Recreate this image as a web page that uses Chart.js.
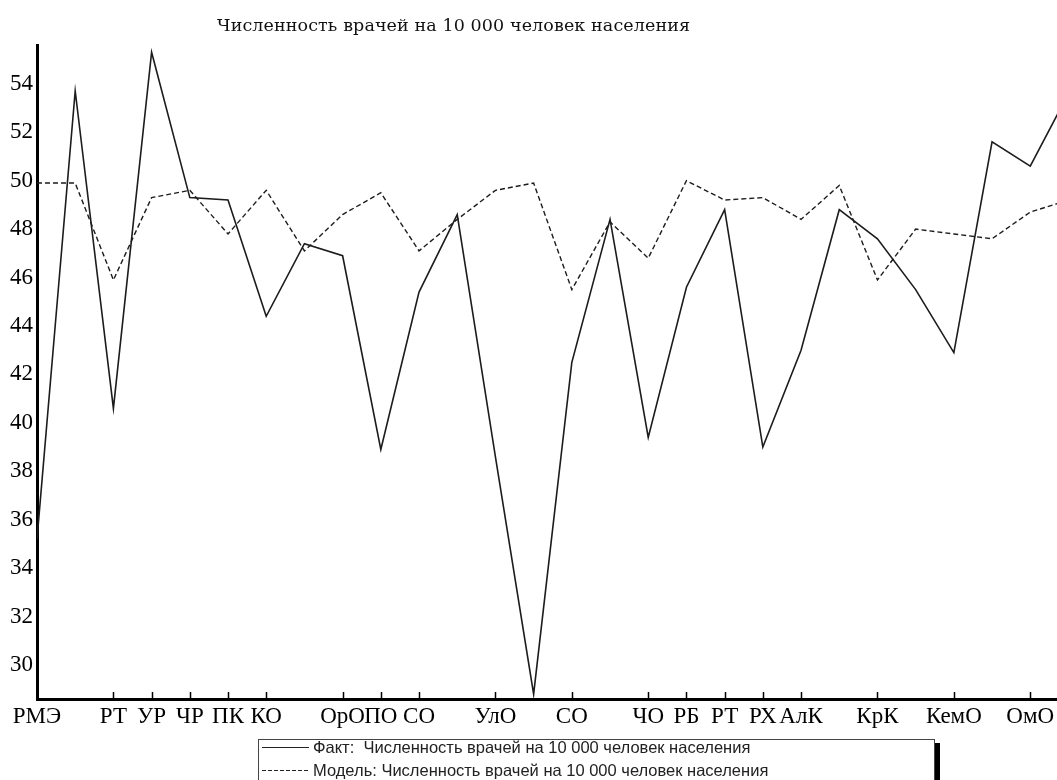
<!DOCTYPE html>
<html>
<head>
<meta charset="utf-8">
<script src="https://cdn.jsdelivr.net/npm/chart.js@4.4.0/dist/chart.umd.min.js"></script>
<style>
  body { margin: 0; background: #fff; }
  #wrap { position: relative; width: 1057px; height: 780px; overflow: hidden; }
  #title {
    position: absolute; left: 217px; top: 17px;
    font: 17.5px/17px "DejaVu Serif", serif; color: #111; white-space: nowrap;
  }
  #legend {
    position: absolute; left: 258px; top: 739px; width: 677px; height: 70px;
    border: 1px solid #444; background: #fff; box-shadow: 5px 4px 0 #000;
    font: 16.5px/23px "Liberation Sans", Arial, sans-serif; color: #222;
    box-sizing: border-box;
  }
  #legend .row { display: flex; align-items: center; height: 23px; white-space: pre; }
  #legend .row:first-child { margin-top: -4px; }
  #legend .sample { width: 47px; height: 1.5px; margin: 0 4px 0 3px; }
</style>
</head>
<body>
<div id="wrap">
  <canvas id="chart" width="1057" height="780"></canvas>
  <div id="title">Численность врачей на 10 000 человек населения</div>
  <div id="legend"></div>
</div>
<script>
// regions along the x axis (blank ones have no label drawn)
const regions = ['РМЭ', '', 'РТ', 'УР', 'ЧР', 'ПК', 'КО', '', 'ОрО', 'ПО', 'СО', '', 'УлО', '',
                 'СО', '', 'ЧО', 'РБ', 'РТ', 'РХ', 'АлК', '', 'КрК', '', 'КемО', '', 'ОмО', ''];
const fakt  = [35.2, 53.7, 40.6, 55.3, 49.3, 49.2, 44.4, 47.4, 46.9, 38.9, 45.4, 48.6, 38.6, 28.8,
               42.5, 48.4, 39.4, 45.6, 48.8, 39.0, 43.0, 48.8, 47.6, 45.5, 42.9, 51.6, 50.6, 53.6];
const model = [49.9, 49.9, 45.9, 49.3, 49.6, 47.8, 49.6, 47.1, 48.6, 49.5, 47.1, 48.4, 49.6, 49.9,
               45.5, 48.3, 46.8, 50.0, 49.2, 49.3, 48.4, 49.8, 45.9, 48.0, 47.8, 47.6, 48.7, 49.2];
const yTicks = [30, 32, 34, 36, 38, 40, 42, 44, 46, 48, 50, 52, 54];

const seriesLabels = ['Факт:  Численность врачей на 10 000 человек населения',
                      'Модель: Численность врачей на 10 000 человек населения'];

const labelled = regions.map((r, i) => r ? i : -1).filter(i => i >= 0);
const toPoints = arr => arr.map((v, i) => ({ x: i, y: v }));
const tickFont = { family: 'Liberation Serif', size: 23 };

// short tick marks standing up from the x axis at the named regions
const innerTicks = {
  id: 'innerTicks',
  afterDraw(chart) {
    const { ctx, chartArea: a, scales: { x } } = chart;
    ctx.save();
    ctx.strokeStyle = '#000';
    ctx.lineWidth = 1.5;
    ctx.beginPath();
    labelled.forEach(i => {
      const px = Math.round(x.getPixelForValue(i)) + 0.5;
      ctx.moveTo(px, a.bottom);
      ctx.lineTo(px, a.bottom - 7);
    });
    ctx.stroke();
    ctx.restore();
  }
};

const chart = new Chart(document.getElementById('chart'), {
  type: 'line',
  data: {
    datasets: [
      { label: seriesLabels[0], data: toPoints(fakt), borderColor: '#1c1c1c', borderWidth: 1.6,
        pointRadius: 0, tension: 0 },
      { label: seriesLabels[1], data: toPoints(model), borderColor: '#1c1c1c', borderWidth: 1.4,
        borderDash: [5, 3], pointRadius: 0, tension: 0 }
    ]
  },
  options: {
    responsive: false,
    animation: false,
    layout: { padding: { top: 45, left: 0, right: 0, bottom: 0 } },
    plugins: { legend: { display: false }, title: { display: false }, tooltip: { enabled: false } },
    scales: {
      x: {
        type: 'linear', min: 0, max: 26.7,
        grid: { display: false, drawTicks: false },
        border: { display: true, color: '#000', width: 3 },
        afterBuildTicks: s => { s.ticks = labelled.map(v => ({ value: v })); },
        afterFit: s => { s.height = 81; s.paddingLeft = 0; s.paddingRight = 0; },
        ticks: {
          autoSkip: false, maxRotation: 0, padding: 4, color: '#000', font: tickFont,
          callback: v => regions[v] || ''
        }
      },
      y: {
        min: 28.6, max: 55.6,
        grid: { display: false, drawTicks: false },
        border: { display: true, color: '#000', width: 3 },
        afterBuildTicks: s => { s.ticks = yTicks.map(v => ({ value: v })); },
        afterFit: s => { s.width = 37; s.paddingTop = 0; s.paddingBottom = 0; },
        ticks: { padding: 4, color: '#000', font: tickFont }
      }
    }
  },
  plugins: [innerTicks]
});

// legend box under the axis
const legend = document.getElementById('legend');
chart.data.datasets.forEach(ds => {
  const row = document.createElement('div');
  row.className = 'row';
  const sample = document.createElement('span');
  sample.className = 'sample';
  sample.style.background = ds.borderDash
    ? 'repeating-linear-gradient(to right, #222 0 4px, transparent 4px 6px)'
    : '#222';
  row.appendChild(sample);
  row.appendChild(document.createTextNode(ds.label));
  legend.appendChild(row);
});

// stretch the title to its full width
const title = document.getElementById('title');
const chars = title.textContent.length;
const spare = 473 - title.getBoundingClientRect().width;
title.style.letterSpacing = (spare / (chars - 1)) + 'px';
</script>
</body>
</html>
